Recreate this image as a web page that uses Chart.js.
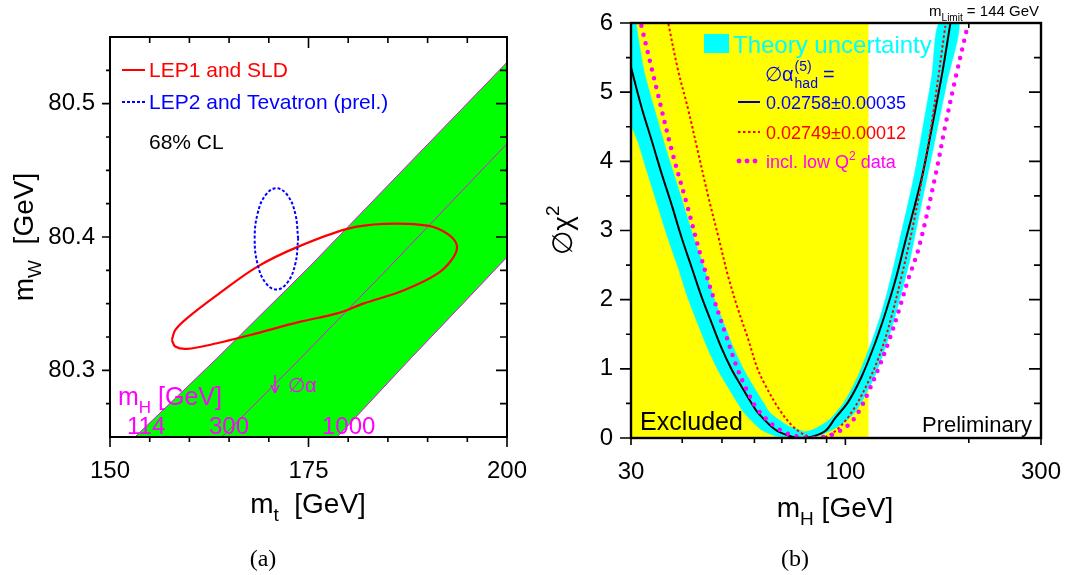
<!DOCTYPE html>
<html>
<head>
<meta charset="utf-8">
<title>mW vs mt and Δχ² vs mH</title>
<script src="https://cdn.jsdelivr.net/npm/chart.js@4.4.0/dist/chart.umd.min.js"></script>
<style>
  html, body { margin: 0; padding: 0; background: #fff; }
  #wrap { position: relative; width: 1065px; height: 575px; }
  #chartA { position: absolute; left: 0; top: 0; }
  #chartB { position: absolute; left: 530px; top: 0; }
</style>
</head>
<body>
<div id="wrap">
  <canvas id="chartA" width="530" height="575"></canvas>
  <canvas id="chartB" width="535" height="575"></canvas>
</div>
<script>
// ── Panel (a): mW vs mt contours ──

// LEP1 and SLD 68% contour (red)
var mtLep1 = [157.79, 158.21, 159.68, 163.47, 168.52, 173.57, 179.89, 184.51, 189.99, 192.51, 193.69,
  193.14, 191.25, 187.03, 181.98, 178.62, 173.99, 167.68, 163.47, 159.68, 158.21, 157.79];
var mwLep1 = [80.3228, 80.3302, 80.3390, 80.3564, 80.3776, 80.3924, 80.4061, 80.4098, 80.4085, 80.4023, 80.3936,
  80.3837, 80.3725, 80.3601, 80.3502, 80.3427, 80.3365, 80.3265, 80.3203, 80.3161, 80.3179, 80.3228];

// LEP2 and Tevatron 68% contour (blue dotted)
var mtLep2 = [173.70, 173.33, 172.33, 170.96, 169.59, 168.59, 168.22, 168.59, 169.59, 170.96, 172.33, 173.33, 173.70];
var mwLep2 = [80.3986, 80.4176, 80.4315, 80.4366, 80.4315, 80.4176, 80.3986, 80.3796, 80.3657, 80.3606, 80.3657, 80.3796, 80.3986];

// SM band edges for mH = 114, 300, 1000 GeV
var mt114 = [153.15, 163.47, 175.25, 185.77, 200];
var mw114 = [80.25, 80.309, 80.3785, 80.4434, 80.531];
var mt300 = [164.10, 173.99, 185.35, 200];
var mw300 = [80.25, 80.309, 80.3785, 80.470];
var mt1000 = [178.62, 187.88, 195.45, 200];
var mw1000 = [80.25, 80.309, 80.3563, 80.385];

var aXTicks = [150, 175, 200];
var aXMinor = [155, 160, 165, 170, 180, 185, 190, 195];
var aYTicks = [80.3, 80.4, 80.5];
var aYMinor = [80.275, 80.325, 80.35, 80.375, 80.425, 80.45, 80.475, 80.525];

// ── Panel (b): Δχ² vs mH ──

var mhBlack = [30, 31.8, 33.7, 35.6, 37.7, 39.8, 42.1, 44.6, 47.2, 49.9, 52.8, 55.8, 59.0, 61.3, 67.5, 74.1, 78.5,
  83.0, 89.3, 94.5, 101.8, 109.8, 118.3, 125.1, 132.4, 140.0, 153.8, 162.7, 172.1, 180.3];
var chiBlack = [5.36, 4.79, 4.30, 3.83, 3.37, 2.91, 2.48, 2.04, 1.66, 1.30, 0.99, 0.745, 0.505, 0.36, 0.12, 0.02, 0.0,
  0.02, 0.10, 0.29, 0.53, 0.90, 1.38, 1.80, 2.28, 2.84, 3.78, 4.50, 5.26, 5.99];

var mhRed = [37.0, 39.1, 41.4, 43.8, 46.3, 49.0, 51.8, 54.8, 58.0, 60.8, 63.8, 68.7, 74.1, 79.9, 85.4, 90.5,
  96.2, 103.8, 113.9, 122.9, 129.9, 137.4, 145.4, 153.8, 163.0, 175.3];
var chiRed = [5.99, 5.31, 4.74, 4.11, 3.49, 2.91, 2.33, 1.85, 1.42, 1.03, 0.76, 0.43, 0.18, 0.04, 0.0, 0.03,
  0.14, 0.38, 0.82, 1.30, 1.78, 2.36, 3.00, 3.75, 4.62, 5.96];

var mhMagenta = [31.8, 34.7, 37.7, 41.0, 44.2, 47.6, 50.9, 54.3, 57.4, 60.8, 66.2, 71.3, 76.9, 83.0, 89.3,
  94.5, 101.8, 107.7, 113.9, 120.5, 127.5, 134.8, 142.6, 150.9, 165.9, 175.3, 185.4, 198.0];
var chiMagenta = [5.96, 5.03, 4.16, 3.39, 2.67, 2.04, 1.52, 1.03, 0.70, 0.43, 0.20, 0.08, 0.02, 0.0, 0.02,
  0.07, 0.19, 0.38, 0.67, 1.01, 1.39, 1.83, 2.31, 2.74, 3.80, 4.52, 5.19, 5.92];

// theory uncertainty band: upper and lower envelopes
var mhBandHi = [30, 32.2, 34.1, 36.0, 38.1, 40.3, 42.6, 45.1, 47.7, 50.5, 53.4, 56.5, 59.7, 63.2, 65.6, 72.3,
  77.8, 79.7, 84.0, 89.3, 92.4, 99.6, 107.4, 115.7, 122.3, 128.7, 135.4, 147.0, 154.6, 162.7, 169.0];
var chiBandHi = [6.46, 5.34, 4.79, 4.30, 3.83, 3.37, 2.91, 2.48, 2.04, 1.66, 1.30, 0.99, 0.745, 0.505, 0.36, 0.18,
  0.11, 0.09, 0.13, 0.22, 0.29, 0.53, 0.90, 1.38, 1.80, 2.28, 2.84, 3.78, 4.50, 5.26, 6.0];
var mhBandLo = [30, 31.1, 32.9, 34.8, 36.8, 39.0, 41.2, 43.6, 46.1, 48.8, 51.6, 54.6, 56.7, 62.3, 68.5, 74.1,
  80.0, 85.0, 89.3, 94.5, 100.0, 105.8, 111.9, 118.3, 125.1, 131.1, 137.4, 144.0, 149.6, 165.1, 177.0, 189.5];
var chiBandLo = [4.52, 4.30, 3.83, 3.37, 2.91, 2.48, 2.04, 1.66, 1.30, 0.99, 0.745, 0.505, 0.36, 0.12, 0.02, 0.0,
  0.0, 0.02, 0.07, 0.14, 0.24, 0.38, 0.625, 0.91, 1.30, 1.68, 2.12, 2.60, 3.08, 4.28, 5.15, 6.0];

// LEP direct search exclusion (mH < 114 GeV)
var mhExcluded = [30, 114];
var chiExcluded = [6, 6];

var bXTicks = [30, 100, 300];
var bXMinor = [40, 50, 60, 70, 80, 90, 200];
var bYTicks = [0, 1, 2, 3, 4, 5, 6];
var bYMinor = [0.5, 1.5, 2.5, 3.5, 4.5, 5.5];

var FONT = '"Liberation Sans", Arial, Helvetica, sans-serif';
var SERIF = '"Liberation Serif", "DejaVu Serif", serif';

// ── helpers ──

function pts(xs, ys) {
  return xs.map(function (x, i) { return { x: x, y: ys[i] }; });
}

function fontFor(p, size) {
  return (p[1] ? Math.round(size * 0.68) : size) + "px " + (p[2] || FONT);
}

// draws text made of parts [text, "sub"|"sup"|"", family]; returns its width
function drawRich(ctx, parts, x, y, size, color, opts) {
  opts = opts || {};
  ctx.save();
  ctx.translate(x, y);
  if (opts.rot) ctx.rotate(opts.rot);
  ctx.fillStyle = color;
  ctx.textBaseline = "alphabetic";
  ctx.textAlign = "left";
  var w = 0;
  parts.forEach(function (p) { ctx.font = fontFor(p, size); w += ctx.measureText(p[0]).width; });
  var cx = opts.align === "center" ? -w / 2 : opts.align === "right" ? -w : 0;
  parts.forEach(function (p) {
    ctx.font = fontFor(p, size);
    var dy = p[1] === "sub" ? size * 0.3 : p[1] === "sup" ? -size * 0.45 : 0;
    ctx.fillText(p[0], cx, dy);
    cx += ctx.measureText(p[0]).width;
  });
  ctx.restore();
  return w;
}

// len > 0 points into the plot area, len < 0 points outwards
function ticks(chart, side, values, len) {
  var ctx = chart.ctx, a = chart.chartArea;
  var sc = (side === "bottom" || side === "top") ? chart.scales.x : chart.scales.y;
  ctx.beginPath();
  values.forEach(function (v) {
    var p = sc.getPixelForValue(v);
    if (side === "bottom") { ctx.moveTo(p, a.bottom); ctx.lineTo(p, a.bottom - len); }
    if (side === "top") { ctx.moveTo(p, a.top); ctx.lineTo(p, a.top + len); }
    if (side === "left") { ctx.moveTo(a.left, p); ctx.lineTo(a.left + len, p); }
    if (side === "right") { ctx.moveTo(a.right, p); ctx.lineTo(a.right - len, p); }
  });
  ctx.stroke();
}

function frame(chart, w) {
  var ctx = chart.ctx, a = chart.chartArea;
  ctx.lineWidth = w;
  ctx.strokeRect(a.left, a.top, a.right - a.left, a.bottom - a.top);
}

function line(ctx, x1, y1, x2, y2, color, width, dash) {
  ctx.save();
  ctx.strokeStyle = color;
  ctx.lineWidth = width;
  ctx.setLineDash(dash || []);
  ctx.beginPath();
  ctx.moveTo(x1, y1);
  ctx.lineTo(x2, y2);
  ctx.stroke();
  ctx.restore();
}

function curve(data, opts) {
  var ds = { data: data, showLine: true, pointRadius: 0, borderWidth: 2, fill: false, clip: 0 };
  Object.keys(opts).forEach(function (k) { ds[k] = opts[k]; });
  return ds;
}

function axis(min, max, type, tickValues, size, padding, label) {
  return {
    type: type,
    min: min,
    max: max,
    grid: { display: false, drawTicks: false },
    border: { display: false },
    afterBuildTicks: function (s) { s.ticks = tickValues.map(function (v) { return { value: v }; }); },
    afterFit: function (s) {
      if (s.isHorizontal()) s.height = size; else s.width = size;
      // keep the plot area fixed: labels may overhang the edges
      s.paddingLeft = s.paddingRight = s.paddingTop = s.paddingBottom = 0;
    },
    ticks: {
      font: { family: FONT, size: 24 },
      color: "#000",
      padding: padding,
      maxRotation: 0,
      autoSkip: false,
      callback: label,
    },
  };
}

// ── Panel (a) ──

var bandPoly = pts(mt114, mw114).concat(pts(mt1000, mw1000).reverse());

var panelA = {
  id: "panelA",
  afterDatasetsDraw: function (chart) {
    var ctx = chart.ctx;
    ctx.save();
    ctx.strokeStyle = "#000";
    ctx.lineWidth = 1.6;
    ticks(chart, "bottom", aXTicks, -10);
    ticks(chart, "bottom", aXMinor, -5);
    ticks(chart, "top", aXTicks, 11);
    ticks(chart, "top", aXMinor, 6);
    ticks(chart, "left", aYTicks, -8);
    ticks(chart, "left", aYMinor, -4);
    ticks(chart, "right", aYTicks, 11);
    ticks(chart, "right", aYMinor, 7);
    frame(chart, 2);
    ctx.restore();
  },
  afterDraw: function (chart) {
    var ctx = chart.ctx;
    drawRich(ctx, [["m"], ["W", "sub"], ["  [GeV]"]], 33, 237, 28, "#000", { align: "center", rot: -Math.PI / 2 });
    drawRich(ctx, [["m"], ["t", "sub"], ["  [GeV]"]], 308, 513, 28, "#000", { align: "center" });

    line(ctx, 122, 70, 145, 70, "#ff0000", 2);
    drawRich(ctx, [["LEP1 and SLD"]], 149, 77, 21, "#ff0000");
    line(ctx, 122, 102, 145, 102, "#0000ff", 2, [3, 2]);
    drawRich(ctx, [["LEP2 and Tevatron (prel.)"]], 149, 109, 21, "#0000ff");
    drawRich(ctx, [["68% CL"]], 149, 149, 21, "#000");

    drawRich(ctx, [["m"], ["H", "sub"], [" [GeV]"]], 118, 405, 25, "#ff00ff");
    drawRich(ctx, [["114"]], 127, 434, 24, "#ff00ff");
    drawRich(ctx, [["300"]], 209, 434, 24, "#ff00ff");
    drawRich(ctx, [["1000"]], 322, 434, 24, "#ff00ff");
    line(ctx, 275, 375, 275, 392, "#ff00ff", 1.5);
    line(ctx, 271, 385, 275, 393, "#ff00ff", 1.5);
    line(ctx, 279, 385, 275, 393, "#ff00ff", 1.5);
    drawRich(ctx, [["∅α"]], 288, 392, 20, "#ff00ff");

    drawRich(ctx, [["(a)", "", SERIF]], 263, 566, 24, "#000", { align: "center" });
  },
};

new Chart(document.getElementById("chartA"), {
  type: "scatter",
  data: {
    datasets: [
      curve(bandPoly, { fill: "shape", backgroundColor: "#00ff00", borderColor: "#00ff00", borderWidth: 0.5, order: 6 }),
      curve(pts(mt114, mw114), { borderColor: "#ff00ff", borderWidth: 1, order: 5 }),
      curve(pts(mt300, mw300), { borderColor: "#ff00ff", borderWidth: 1, order: 4 }),
      curve(pts(mt1000, mw1000), { borderColor: "#ff00ff", borderWidth: 1, order: 3 }),
      curve(pts(mtLep1, mwLep1), { borderColor: "#ff0000", borderWidth: 2.2, tension: 0.35, order: 2 }),
      curve(pts(mtLep2, mwLep2), { borderColor: "#0000ff", borderWidth: 2, borderDash: [3, 2], tension: 0.4, order: 1 }),
    ],
  },
  options: {
    responsive: false,
    animation: false,
    devicePixelRatio: 1,
    layout: { padding: { top: 37, right: 23, bottom: 0, left: 0 } },
    plugins: { legend: { display: false }, tooltip: { enabled: false } },
    scales: {
      x: axis(150, 200, "linear", aXTicks, 138, 20, function (v) { return String(v); }),
      y: axis(80.25, 80.55, "linear", aYTicks, 110, 15, function (v) { return v.toFixed(1); }),
    },
  },
  plugins: [panelA],
});

// ── Panel (b) ──

var theoryBand = pts(mhBandHi, chiBandHi).concat(pts(mhBandLo, chiBandLo).reverse());

var panelB = {
  id: "panelB",
  beforeDatasetsDraw: function (chart) {
    var ctx = chart.ctx;
    ctx.save();
    ctx.strokeStyle = "#000";
    ctx.lineWidth = 1.6;
    ticks(chart, "top", bXTicks, 7);
    ticks(chart, "top", bXMinor, 5);
    ctx.restore();
  },
  afterDatasetsDraw: function (chart) {
    var ctx = chart.ctx;
    ctx.save();
    ctx.strokeStyle = "#000";
    ctx.lineWidth = 1.6;
    ticks(chart, "bottom", bXTicks, -7);
    ticks(chart, "bottom", bXMinor, -5);
    ticks(chart, "left", bYTicks, -11);
    ticks(chart, "left", bYMinor, -5);
    ticks(chart, "right", bYTicks, 12);
    ticks(chart, "right", bYMinor, 7);
    frame(chart, 2.4);
    ctx.restore();
  },
  afterDraw: function (chart) {
    var ctx = chart.ctx;
    ctx.fillStyle = "#00ffff";
    ctx.fillRect(174, 34, 25, 19);
    drawRich(ctx, [["Theory uncertainty"]], 203, 53, 24, "#00ffff");

    var w = drawRich(ctx, [["∅α"]], 235, 81, 20, "#0000ff");
    drawRich(ctx, [["(5)"]], 236 + w, 71, 14, "#0000ff");
    var w2 = drawRich(ctx, [["had"]], 236 + w, 88, 14, "#0000ff");
    drawRich(ctx, [["="]], 241 + w + w2, 81, 20, "#0000ff");

    line(ctx, 208, 102, 230, 102, "#000080", 2);
    drawRich(ctx, [["0.02758±0.00035"]], 236, 109, 18, "#0000ff");
    line(ctx, 208, 132, 230, 132, "#ff0000", 2, [2.5, 2.5]);
    drawRich(ctx, [["0.02749±0.00012"]], 236, 139, 18, "#ff0000");
    ctx.fillStyle = "#ff00ff";
    [209, 217, 225].forEach(function (x) {
      ctx.beginPath();
      ctx.arc(x, 161, 2.4, 0, Math.PI * 2);
      ctx.fill();
    });
    drawRich(ctx, [["incl. low Q"], ["2", "sup"], [" data"]], 236, 168, 18, "#ff00ff");

    drawRich(ctx, [["m"], ["Limit", "sub"], [" = 144 GeV"]], 509, 16, 15, "#000", { align: "right" });
    drawRich(ctx, [["Excluded"]], 110, 430, 25, "#000");
    drawRich(ctx, [["Preliminary"]], 502, 432, 22, "#000", { align: "right" });

    drawRich(ctx, [["∅χ"], ["2", "sup"]], 42, 230, 28, "#000", { align: "center", rot: -Math.PI / 2 });
    drawRich(ctx, [["m"], ["H", "sub"], [" [GeV]"]], 305, 517, 28, "#000", { align: "center" });
    drawRich(ctx, [["(b)", "", SERIF]], 265, 566, 24, "#000", { align: "center" });
  },
};

new Chart(document.getElementById("chartB"), {
  type: "scatter",
  data: {
    datasets: [
      curve(pts(mhExcluded, chiExcluded), { fill: "origin", backgroundColor: "#ffff00", borderColor: "#ffff00", borderWidth: 0.5, order: 6 }),
      curve(theoryBand, { fill: "shape", backgroundColor: "#00ffff", borderColor: "#00ffff", borderWidth: 0.5, tension: 0.25, order: 5 }),
      curve(pts(mhBlack, chiBlack), { borderColor: "#000", borderWidth: 2, tension: 0.35, order: 4 }),
      curve(pts(mhRed, chiRed), { borderColor: "#ff0000", borderWidth: 2, borderDash: [2.5, 2.5], tension: 0.35, order: 3 }),
      curve(pts(mhMagenta, chiMagenta), {
        borderColor: "#ff00ff", borderWidth: 4.5, borderDash: [0, 9], borderCapStyle: "round", tension: 0.35, order: 2,
      }),
    ],
  },
  options: {
    responsive: false,
    animation: false,
    devicePixelRatio: 1,
    layout: { padding: { top: 23, right: 24, bottom: 0, left: 0 } },
    plugins: { legend: { display: false }, tooltip: { enabled: false } },
    scales: {
      x: axis(30, 300, "logarithmic", bXTicks, 137, 20, function (v) { return String(v); }),
      y: axis(0, 6, "linear", bYTicks, 101, 18, function (v) { return String(v); }),
    },
  },
  plugins: [panelB],
});
</script>
</body>
</html>
